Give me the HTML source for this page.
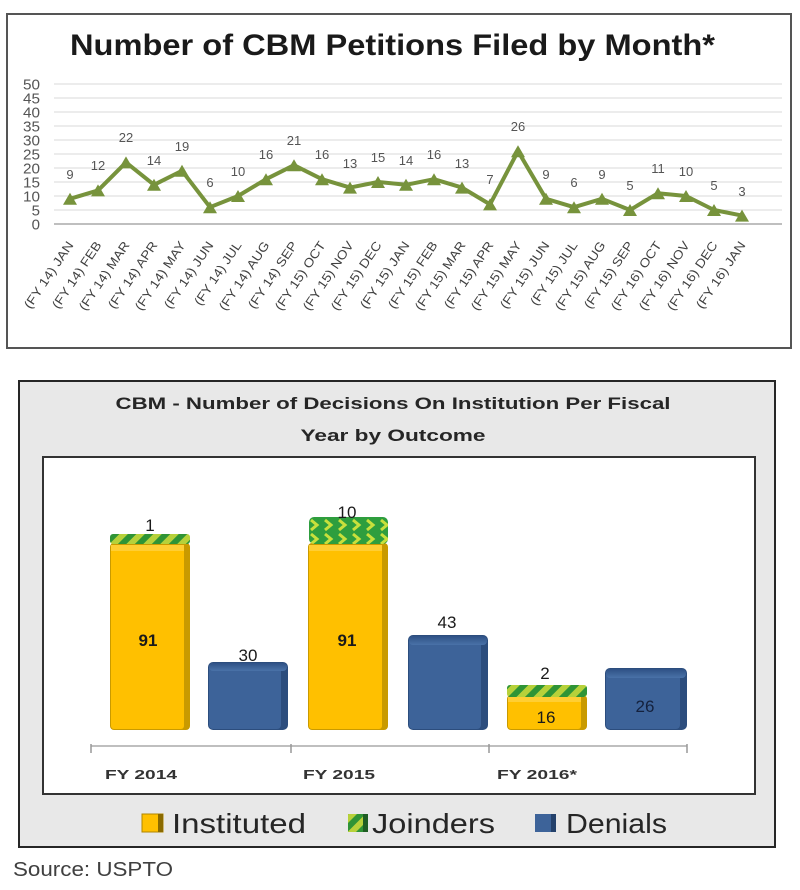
<!DOCTYPE html>
<html><head><meta charset="utf-8"><style>
html,body{margin:0;padding:0;background:#fff;}
svg{display:block;}
text{font-family:"Liberation Sans",sans-serif;}
</style></head><body>
<svg width="800" height="890" viewBox="0 0 800 890" xmlns="http://www.w3.org/2000/svg">
<defs>
<pattern id="stripe" patternUnits="userSpaceOnUse" width="12" height="12" patternTransform="rotate(45)">
<rect width="12" height="12" fill="#b7d13a"/>
<rect width="6" height="12" fill="#2f9436"/>
</pattern>
<pattern id="chev" patternUnits="userSpaceOnUse" width="14" height="14">
<rect width="14" height="14" fill="#2e9e3e"/>
<polyline points="3,2 9,7 3,12" fill="none" stroke="#c8e03c" stroke-width="3"/>
</pattern>
<linearGradient id="blueTop" x1="0" y1="0" x2="0" y2="1">
<stop offset="0" stop-color="#2f5185"/><stop offset="1" stop-color="#4a72a8"/>
</linearGradient>
</defs>

<!-- TOP CHART -->
<rect x="7" y="14" width="784" height="334" fill="#fff" stroke="#555" stroke-width="2"/>
<text x="392.5" y="55" font-size="30" font-weight="bold" fill="#1a1a1a" text-anchor="middle" textLength="645" lengthAdjust="spacingAndGlyphs">Number of CBM Petitions Filed by Month*</text>

<g stroke="#d9d9d9" stroke-width="1">
<line x1="54" y1="84" x2="782" y2="84"/>
<line x1="54" y1="98" x2="782" y2="98"/>
<line x1="54" y1="112" x2="782" y2="112"/>
<line x1="54" y1="126" x2="782" y2="126"/>
<line x1="54" y1="140" x2="782" y2="140"/>
<line x1="54" y1="154" x2="782" y2="154"/>
<line x1="54" y1="168" x2="782" y2="168"/>
<line x1="54" y1="182" x2="782" y2="182"/>
<line x1="54" y1="196" x2="782" y2="196"/>
<line x1="54" y1="210" x2="782" y2="210"/>
</g>
<line x1="54" y1="224" x2="782" y2="224" stroke="#bfbfbf" stroke-width="2"/>

<g font-size="15" fill="#555" text-anchor="end">
<text x="40" y="89.5" textLength="17" lengthAdjust="spacingAndGlyphs">50</text>
<text x="40" y="103.5" textLength="17" lengthAdjust="spacingAndGlyphs">45</text>
<text x="40" y="117.5" textLength="17" lengthAdjust="spacingAndGlyphs">40</text>
<text x="40" y="131.5" textLength="17" lengthAdjust="spacingAndGlyphs">35</text>
<text x="40" y="145.5" textLength="17" lengthAdjust="spacingAndGlyphs">30</text>
<text x="40" y="159.5" textLength="17" lengthAdjust="spacingAndGlyphs">25</text>
<text x="40" y="173.5" textLength="17" lengthAdjust="spacingAndGlyphs">20</text>
<text x="40" y="187.5" textLength="17" lengthAdjust="spacingAndGlyphs">15</text>
<text x="40" y="201.5" textLength="17" lengthAdjust="spacingAndGlyphs">10</text>
<text x="40" y="215.5">5</text>
<text x="40" y="229.5">0</text>
</g>

<polyline fill="none" stroke="#77933c" stroke-width="4" stroke-linejoin="round"
points="70,198.8 98,190.4 126,162.4 154,184.8 182,170.8 210,207.2 238,196 266,179.2 294,165.2 322,179.2 350,187.6 378,182 406,184.8 434,179.2 462,187.6 490,204.4 518,151.2 546,198.8 574,207.2 602,198.8 630,210 658,193.2 686,196 714,210 742,215.6"/>

<g fill="#77933c">
<polygon points="63,204.8 77,204.8 70,192.8"/>
<polygon points="91,196.4 105,196.4 98,184.4"/>
<polygon points="119,168.4 133,168.4 126,156.4"/>
<polygon points="147,190.8 161,190.8 154,178.8"/>
<polygon points="175,176.8 189,176.8 182,164.8"/>
<polygon points="203,213.2 217,213.2 210,201.2"/>
<polygon points="231,202 245,202 238,190"/>
<polygon points="259,185.2 273,185.2 266,173.2"/>
<polygon points="287,171.2 301,171.2 294,159.2"/>
<polygon points="315,185.2 329,185.2 322,173.2"/>
<polygon points="343,193.6 357,193.6 350,181.6"/>
<polygon points="371,188 385,188 378,176"/>
<polygon points="399,190.8 413,190.8 406,178.8"/>
<polygon points="427,185.2 441,185.2 434,173.2"/>
<polygon points="455,193.6 469,193.6 462,181.6"/>
<polygon points="483,210.4 497,210.4 490,198.4"/>
<polygon points="511,157.2 525,157.2 518,145.2"/>
<polygon points="539,204.8 553,204.8 546,192.8"/>
<polygon points="567,213.2 581,213.2 574,201.2"/>
<polygon points="595,204.8 609,204.8 602,192.8"/>
<polygon points="623,216 637,216 630,204"/>
<polygon points="651,199.2 665,199.2 658,187.2"/>
<polygon points="679,202 693,202 686,190"/>
<polygon points="707,216 721,216 714,204"/>
<polygon points="735,221.6 749,221.6 742,209.6"/>
</g>

<g font-size="13" fill="#555" text-anchor="middle">
<text x="70" y="179">9</text>
<text x="98" y="170">12</text>
<text x="126" y="142">22</text>
<text x="154" y="165">14</text>
<text x="182" y="151">19</text>
<text x="210" y="187">6</text>
<text x="238" y="176">10</text>
<text x="266" y="159">16</text>
<text x="294" y="145">21</text>
<text x="322" y="159">16</text>
<text x="350" y="168">13</text>
<text x="378" y="162">15</text>
<text x="406" y="165">14</text>
<text x="434" y="159">16</text>
<text x="462" y="168">13</text>
<text x="490" y="184">7</text>
<text x="518" y="131">26</text>
<text x="546" y="179">9</text>
<text x="574" y="187">6</text>
<text x="602" y="179">9</text>
<text x="630" y="190">5</text>
<text x="658" y="173">11</text>
<text x="686" y="176">10</text>
<text x="714" y="190">5</text>
<text x="742" y="196">3</text>
</g>

<g font-size="12.5" fill="#404040" text-anchor="end">
<text transform="translate(74,245) rotate(-56)" textLength="78" lengthAdjust="spacingAndGlyphs">(FY 14) JAN</text>
<text transform="translate(102,245) rotate(-56)" textLength="78" lengthAdjust="spacingAndGlyphs">(FY 14) FEB</text>
<text transform="translate(130,245) rotate(-56)" textLength="80" lengthAdjust="spacingAndGlyphs">(FY 14) MAR</text>
<text transform="translate(158,245) rotate(-56)" textLength="78" lengthAdjust="spacingAndGlyphs">(FY 14) APR</text>
<text transform="translate(186,245) rotate(-56)" textLength="80" lengthAdjust="spacingAndGlyphs">(FY 14) MAY</text>
<text transform="translate(214,245) rotate(-56)" textLength="78" lengthAdjust="spacingAndGlyphs">(FY 14) JUN</text>
<text transform="translate(242,245) rotate(-56)" textLength="74" lengthAdjust="spacingAndGlyphs">(FY 14) JUL</text>
<text transform="translate(270,245) rotate(-56)" textLength="80" lengthAdjust="spacingAndGlyphs">(FY 14) AUG</text>
<text transform="translate(298,245) rotate(-56)" textLength="78" lengthAdjust="spacingAndGlyphs">(FY 14) SEP</text>
<text transform="translate(326,245) rotate(-56)" textLength="80" lengthAdjust="spacingAndGlyphs">(FY 15) OCT</text>
<text transform="translate(354,245) rotate(-56)" textLength="80" lengthAdjust="spacingAndGlyphs">(FY 15) NOV</text>
<text transform="translate(382,245) rotate(-56)" textLength="80" lengthAdjust="spacingAndGlyphs">(FY 15) DEC</text>
<text transform="translate(410,245) rotate(-56)" textLength="78" lengthAdjust="spacingAndGlyphs">(FY 15) JAN</text>
<text transform="translate(438,245) rotate(-56)" textLength="78" lengthAdjust="spacingAndGlyphs">(FY 15) FEB</text>
<text transform="translate(466,245) rotate(-56)" textLength="80" lengthAdjust="spacingAndGlyphs">(FY 15) MAR</text>
<text transform="translate(494,245) rotate(-56)" textLength="78" lengthAdjust="spacingAndGlyphs">(FY 15) APR</text>
<text transform="translate(522,245) rotate(-56)" textLength="80" lengthAdjust="spacingAndGlyphs">(FY 15) MAY</text>
<text transform="translate(550,245) rotate(-56)" textLength="78" lengthAdjust="spacingAndGlyphs">(FY 15) JUN</text>
<text transform="translate(578,245) rotate(-56)" textLength="74" lengthAdjust="spacingAndGlyphs">(FY 15) JUL</text>
<text transform="translate(606,245) rotate(-56)" textLength="80" lengthAdjust="spacingAndGlyphs">(FY 15) AUG</text>
<text transform="translate(634,245) rotate(-56)" textLength="78" lengthAdjust="spacingAndGlyphs">(FY 15) SEP</text>
<text transform="translate(662,245) rotate(-56)" textLength="80" lengthAdjust="spacingAndGlyphs">(FY 16) OCT</text>
<text transform="translate(690,245) rotate(-56)" textLength="80" lengthAdjust="spacingAndGlyphs">(FY 16) NOV</text>
<text transform="translate(718,245) rotate(-56)" textLength="80" lengthAdjust="spacingAndGlyphs">(FY 16) DEC</text>
<text transform="translate(746,245) rotate(-56)" textLength="78" lengthAdjust="spacingAndGlyphs">(FY 16) JAN</text>
</g>

<!-- BOTTOM CHART -->
<rect x="19" y="381" width="756" height="466" fill="#e8e8e8" stroke="#262626" stroke-width="2"/>
<text x="393" y="409" font-size="17" font-weight="bold" fill="#262626" text-anchor="middle" textLength="555" lengthAdjust="spacingAndGlyphs">CBM - Number of Decisions On Institution Per Fiscal</text>
<text x="393" y="441" font-size="17" font-weight="bold" fill="#262626" text-anchor="middle" textLength="185" lengthAdjust="spacingAndGlyphs">Year by Outcome</text>
<rect x="43" y="457" width="712" height="337" fill="#fff" stroke="#333" stroke-width="2"/>

<!-- FY2014 instituted -->
<rect x="110" y="543" width="80" height="187" rx="4" fill="#c99a00"/>
<rect x="111" y="545" width="73" height="184" rx="3" fill="#ffc000"/>
<rect x="111" y="545" width="73" height="6" fill="#ffce33"/>
<rect x="110" y="534" width="80" height="10" rx="3" fill="url(#stripe)"/>
<!-- FY2014 denials -->
<rect x="208" y="662" width="80" height="68" rx="5" fill="#2c4d7d"/>
<rect x="209" y="663" width="72" height="66" rx="4" fill="#3d6399"/>
<rect x="209" y="663" width="78" height="8" rx="4" fill="url(#blueTop)"/>
<!-- FY2015 instituted -->
<rect x="308" y="543" width="80" height="187" rx="4" fill="#c99a00"/>
<rect x="309" y="545" width="73" height="184" rx="3" fill="#ffc000"/>
<rect x="309" y="545" width="73" height="6" fill="#ffce33"/>
<rect x="309" y="517" width="79" height="27" rx="5" fill="url(#chev)"/>
<!-- FY2015 denials -->
<rect x="408" y="635" width="80" height="95" rx="5" fill="#2c4d7d"/>
<rect x="409" y="636" width="72" height="93" rx="4" fill="#3d6399"/>
<rect x="409" y="636" width="78" height="9" rx="4" fill="url(#blueTop)"/>
<!-- FY2016 instituted -->
<rect x="507" y="695" width="80" height="35" rx="4" fill="#c99a00"/>
<rect x="508" y="697" width="73" height="32" rx="3" fill="#ffc000"/>
<rect x="508" y="697" width="73" height="5" fill="#ffce33"/>
<rect x="507" y="685" width="80" height="12" rx="3" fill="url(#stripe)"/>
<!-- FY2016 denials -->
<rect x="605" y="668" width="82" height="62" rx="5" fill="#2c4d7d"/>
<rect x="606" y="669" width="74" height="60" rx="4" fill="#3d6399"/>
<rect x="606" y="669" width="80" height="9" rx="4" fill="url(#blueTop)"/>

<g font-size="17" fill="#1a1a1a" text-anchor="middle">
<text x="150" y="531">1</text>
<text x="148" y="646" font-weight="bold">91</text>
<text x="248" y="661">30</text>
<text x="347" y="518">10</text>
<text x="347" y="646" font-weight="bold">91</text>
<text x="447" y="628">43</text>
<text x="545" y="679">2</text>
<text x="546" y="723">16</text>
<text x="645" y="712" fill="#14213d">26</text>
</g>

<line x1="91" y1="746" x2="687" y2="746" stroke="#bfbfbf" stroke-width="2"/>
<g stroke="#999" stroke-width="1.5">
<line x1="91" y1="744" x2="91" y2="753"/>
<line x1="291" y1="744" x2="291" y2="753"/>
<line x1="489" y1="744" x2="489" y2="753"/>
<line x1="687" y1="744" x2="687" y2="753"/>
</g>
<g font-size="13" font-weight="bold" fill="#333" text-anchor="middle">
<text x="141" y="779" textLength="72" lengthAdjust="spacingAndGlyphs">FY 2014</text>
<text x="339" y="779" textLength="72" lengthAdjust="spacingAndGlyphs">FY 2015</text>
<text x="537" y="779" textLength="80" lengthAdjust="spacingAndGlyphs">FY 2016*</text>
</g>

<!-- legend -->
<rect x="142" y="814" width="21" height="18" fill="#ffc000" stroke="#b08600" stroke-width="1"/>
<rect x="158" y="814" width="5" height="18" fill="#8a6a00"/>
<text x="172" y="833" font-size="28" fill="#262626" textLength="134" lengthAdjust="spacingAndGlyphs">Instituted</text>
<rect x="348" y="814" width="20" height="18" fill="url(#stripe)"/>
<rect x="363" y="814" width="5" height="18" fill="#1f5e24"/>
<text x="372" y="833" font-size="28" fill="#262626" textLength="123" lengthAdjust="spacingAndGlyphs">Joinders</text>
<rect x="535" y="814" width="21" height="18" fill="#3d6399"/>
<rect x="551" y="814" width="5" height="18" fill="#24416b"/>
<text x="566" y="833" font-size="28" fill="#262626" textLength="101" lengthAdjust="spacingAndGlyphs">Denials</text>

<text x="13" y="876" font-size="20" fill="#404040" textLength="160" lengthAdjust="spacingAndGlyphs">Source: USPTO</text>
</svg>
</body></html>
